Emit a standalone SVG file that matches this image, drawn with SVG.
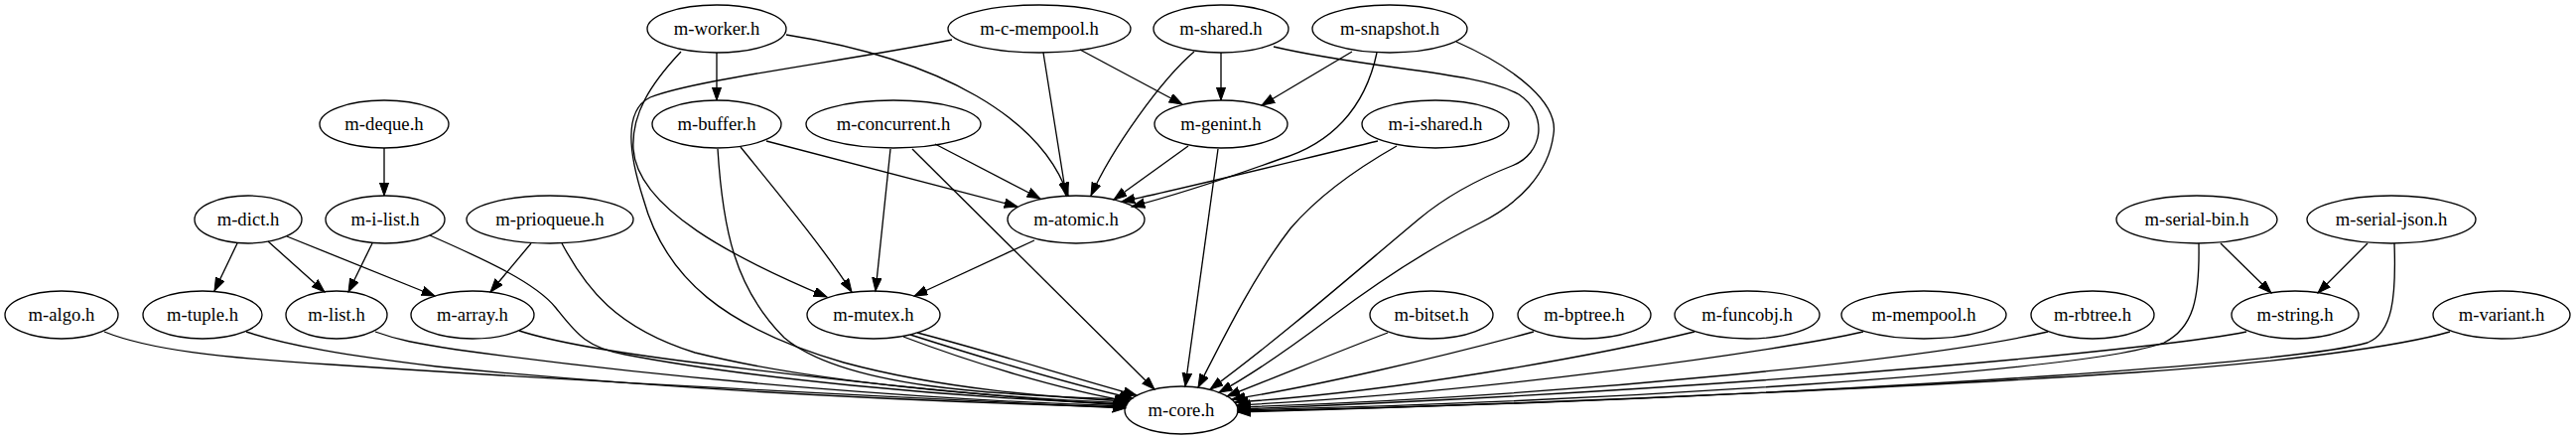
<svg xmlns="http://www.w3.org/2000/svg" width="2595" height="443" viewBox="0 0 2595 443">
<style>
.n ellipse{fill:none;stroke:#000;stroke-width:1.33}
.n text{font-family:"Liberation Serif","Times New Roman",serif;font-size:18.67px;text-anchor:middle;fill:#000}
#edges path{fill:none;stroke:#000;stroke-width:1.33;marker-end:url(#ah)}
</style>
<defs>
<marker id="ah" markerWidth="16" markerHeight="12" refX="13.3" refY="5" orient="auto" markerUnits="userSpaceOnUse">
<path d="M0,0.3 L13.3,5 L0,9.7 Z" fill="#000" stroke="#000" stroke-width="1"/>
</marker>
</defs>
<rect width="2595" height="443" fill="#fff"/>
<g id="edges">
<path d="M722,53 L722,101"/>
<path d="M792,35 C950,60 1050,120 1076,197"/>
<path d="M686,52 C655,85 636,115 638,150 C642,210 740,260 833,299"/>
<path d="M959,40 C850,62 700,80 655,98 C630,110 632,150 648,200 C670,280 730,330 850,365 C950,392 1060,400 1136,404"/>
<path d="M1051,53 L1074,197"/>
<path d="M1088,50 L1191,105"/>
<path d="M1230,53 L1230,101"/>
<path d="M1203,52 C1170,80 1120,150 1099,197"/>
<path d="M1283,47 C1380,70 1490,72 1530,95 C1560,115 1555,155 1523,167 C1490,180 1460,195 1430,220 C1370,270 1290,340 1219,392"/>
<path d="M1362,52 L1271,106"/>
<path d="M1387,53 C1375,110 1340,145 1290,160 C1240,178 1190,195 1140,208"/>
<path d="M1467,42 C1530,70 1570,105 1565,135 C1560,175 1530,205 1490,225 C1430,255 1380,290 1340,320 C1300,350 1260,378 1228,395"/>
<path d="M772,142 L1025,208"/>
<path d="M746,148 C780,190 830,250 858,294"/>
<path d="M723,150 C728,230 740,290 790,340 C850,390 1000,398 1138,402"/>
<path d="M942,145 L1048,200"/>
<path d="M897,150 L882,293"/>
<path d="M919,150 L1163,392"/>
<path d="M1197,147 L1122,201"/>
<path d="M1227,150 L1194,389"/>
<path d="M1388,142 C1300,163 1200,188 1130,203"/>
<path d="M1407,147 C1370,168 1330,195 1300,230 C1265,275 1235,335 1207,390"/>
<path d="M1042,242 L921,298"/>
<path d="M924,335 C990,352 1080,380 1145,398"/>
<path d="M917,337 C983,358 1073,386 1141,401"/>
<path d="M910,339 C976,364 1066,392 1137,404"/>
<path d="M387,149 L387,197"/>
<path d="M239,245 L216,293"/>
<path d="M270,243 L327,294"/>
<path d="M289,238 L438,298"/>
<path d="M375,245 L351,294"/>
<path d="M433,237 C490,262 540,285 560,310 C580,335 590,350 630,357 C750,380 950,400 1135,407"/>
<path d="M535,245 L494,294"/>
<path d="M566,245 C590,290 620,330 700,355 C820,385 1000,400 1136,406"/>
<path d="M105,334 C150,352 220,360 333,367 C600,385 900,400 1134,411"/>
<path d="M248,334 C290,348 350,358 440,369 C700,395 950,405 1134,410"/>
<path d="M378,334 C400,342 420,346 460,352 C700,385 950,403 1134,409"/>
<path d="M523,333 C560,345 620,355 700,365 C900,390 1050,403 1135,408"/>
<path d="M1398,335 C1350,353 1290,378 1236,399"/>
<path d="M1545,334 C1450,360 1320,390 1241,402"/>
<path d="M1707,334 C1600,360 1400,395 1244,405"/>
<path d="M1877,334 C1800,352 1500,395 1246,408"/>
<path d="M2063,334 C1950,360 1600,398 1247,410"/>
<path d="M2237,245 L2288,295"/>
<path d="M2215,245 C2216,300 2210,330 2180,345 C2100,375 1600,405 1247,413"/>
<path d="M2385,245 L2335,295"/>
<path d="M2412,245 C2414,300 2410,335 2385,345 C2300,370 1700,405 1247,414"/>
<path d="M2263,334 C2200,348 1800,390 1247,412"/>
<path d="M2468,334 C2420,348 2300,365 2150,375 C1900,392 1500,408 1247,415"/>
</g>
<g id="m-worker" class="n"><ellipse cx="722" cy="29" rx="70" ry="24"/><text x="722" y="35">m-worker.h</text></g>
<g id="m-c-mempool" class="n"><ellipse cx="1047" cy="29" rx="92" ry="24"/><text x="1047" y="35">m-c-mempool.h</text></g>
<g id="m-shared" class="n"><ellipse cx="1230" cy="29" rx="68" ry="24"/><text x="1230" y="35">m-shared.h</text></g>
<g id="m-snapshot" class="n"><ellipse cx="1400" cy="29" rx="78" ry="24"/><text x="1400" y="35">m-snapshot.h</text></g>
<g id="m-deque" class="n"><ellipse cx="387" cy="125" rx="65" ry="24"/><text x="387" y="131">m-deque.h</text></g>
<g id="m-buffer" class="n"><ellipse cx="722" cy="125" rx="65" ry="24"/><text x="722" y="131">m-buffer.h</text></g>
<g id="m-concurrent" class="n"><ellipse cx="900" cy="125" rx="88" ry="24"/><text x="900" y="131">m-concurrent.h</text></g>
<g id="m-genint" class="n"><ellipse cx="1230" cy="125" rx="67" ry="24"/><text x="1230" y="131">m-genint.h</text></g>
<g id="m-i-shared" class="n"><ellipse cx="1446" cy="125" rx="74" ry="24"/><text x="1446" y="131">m-i-shared.h</text></g>
<g id="m-dict" class="n"><ellipse cx="250" cy="221" rx="54" ry="24"/><text x="250" y="227">m-dict.h</text></g>
<g id="m-i-list" class="n"><ellipse cx="388" cy="221" rx="60" ry="24"/><text x="388" y="227">m-i-list.h</text></g>
<g id="m-prioqueue" class="n"><ellipse cx="554" cy="221" rx="84" ry="24"/><text x="554" y="227">m-prioqueue.h</text></g>
<g id="m-atomic" class="n"><ellipse cx="1084" cy="221" rx="69" ry="24"/><text x="1084" y="227">m-atomic.h</text></g>
<g id="m-serial-bin" class="n"><ellipse cx="2213" cy="221" rx="81" ry="24"/><text x="2213" y="227">m-serial-bin.h</text></g>
<g id="m-serial-json" class="n"><ellipse cx="2409" cy="221" rx="85" ry="24"/><text x="2409" y="227">m-serial-json.h</text></g>
<g id="m-algo" class="n"><ellipse cx="62" cy="317" rx="57" ry="24"/><text x="62" y="323">m-algo.h</text></g>
<g id="m-tuple" class="n"><ellipse cx="204" cy="317" rx="60" ry="24"/><text x="204" y="323">m-tuple.h</text></g>
<g id="m-list" class="n"><ellipse cx="339" cy="317" rx="51" ry="24"/><text x="339" y="323">m-list.h</text></g>
<g id="m-array" class="n"><ellipse cx="476" cy="317" rx="62" ry="24"/><text x="476" y="323">m-array.h</text></g>
<g id="m-mutex" class="n"><ellipse cx="880" cy="317" rx="67" ry="24"/><text x="880" y="323">m-mutex.h</text></g>
<g id="m-bitset" class="n"><ellipse cx="1442" cy="317" rx="62" ry="24"/><text x="1442" y="323">m-bitset.h</text></g>
<g id="m-bptree" class="n"><ellipse cx="1596" cy="317" rx="67" ry="24"/><text x="1596" y="323">m-bptree.h</text></g>
<g id="m-funcobj" class="n"><ellipse cx="1760" cy="317" rx="73" ry="24"/><text x="1760" y="323">m-funcobj.h</text></g>
<g id="m-mempool" class="n"><ellipse cx="1938" cy="317" rx="83" ry="24"/><text x="1938" y="323">m-mempool.h</text></g>
<g id="m-rbtree" class="n"><ellipse cx="2108" cy="317" rx="62" ry="24"/><text x="2108" y="323">m-rbtree.h</text></g>
<g id="m-string" class="n"><ellipse cx="2312" cy="317" rx="64" ry="24"/><text x="2312" y="323">m-string.h</text></g>
<g id="m-variant" class="n"><ellipse cx="2520" cy="317" rx="69" ry="24"/><text x="2520" y="323">m-variant.h</text></g>
<g id="m-core" class="n"><ellipse cx="1190" cy="413" rx="57" ry="24"/><text x="1190" y="419">m-core.h</text></g>
</svg>
